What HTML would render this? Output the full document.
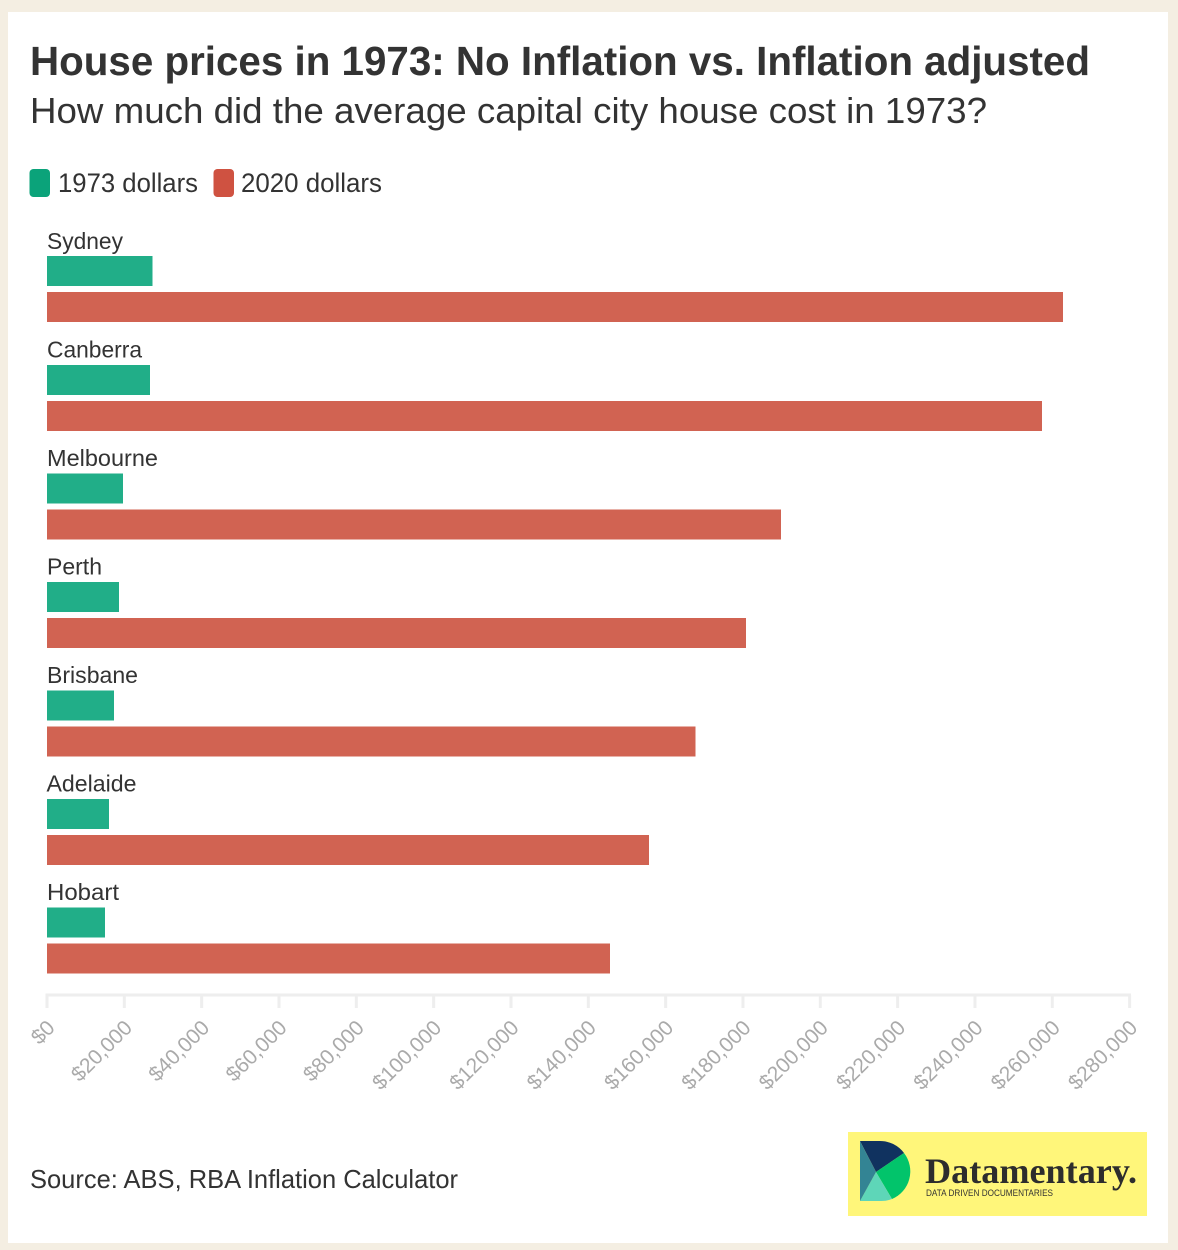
<!DOCTYPE html>
<html><head><meta charset="utf-8"><style>
html,body{margin:0;padding:0;background:#f4eee2;}
svg{display:block;}
text{font-family:"Liberation Sans",sans-serif;}
text.serif{font-family:"Liberation Serif",serif;}
</style></head><body>
<svg width="1178" height="1250" viewBox="0 0 1178 1250" xmlns="http://www.w3.org/2000/svg">
<rect x="0" y="0" width="1178" height="1250" fill="#f4eee2"/>
<rect x="8" y="12" width="1160" height="1231" fill="#ffffff"/>

<text x="30" y="75" font-size="41" font-weight="bold" fill="#333333" textLength="1060" lengthAdjust="spacingAndGlyphs">House prices in 1973: No Inflation vs. Inflation adjusted</text>
<text x="30" y="123" font-size="36" fill="#333333" textLength="957" lengthAdjust="spacingAndGlyphs">How much did the average capital city house cost in 1973?</text>

<rect x="29.5" y="169" width="20.5" height="28" rx="4" fill="#0ba37a"/>
<text x="58" y="192" font-size="27" fill="#333333" textLength="140" lengthAdjust="spacingAndGlyphs">1973 dollars</text>
<rect x="213.5" y="169" width="20.5" height="28" rx="4" fill="#cf5241"/>
<text x="241" y="192" font-size="27" fill="#333333" textLength="141" lengthAdjust="spacingAndGlyphs">2020 dollars</text>

<g font-size="23" fill="#333333">
<text x="47" y="249" textLength="76" lengthAdjust="spacingAndGlyphs">Sydney</text>
<text x="47" y="357.5" textLength="95" lengthAdjust="spacingAndGlyphs">Canberra</text>
<text x="47" y="466" textLength="111" lengthAdjust="spacingAndGlyphs">Melbourne</text>
<text x="47" y="574.5" textLength="55" lengthAdjust="spacingAndGlyphs">Perth</text>
<text x="47" y="683" textLength="91" lengthAdjust="spacingAndGlyphs">Brisbane</text>
<text x="46.5" y="791.5" textLength="90" lengthAdjust="spacingAndGlyphs">Adelaide</text>
<text x="47" y="900" textLength="72" lengthAdjust="spacingAndGlyphs">Hobart</text>
</g>

<g fill="#21ae88">
<rect x="47" y="256" width="105.5" height="30"/>
<rect x="47" y="365" width="103" height="30"/>
<rect x="47" y="473.5" width="76" height="30"/>
<rect x="47" y="582" width="72" height="30"/>
<rect x="47" y="690.5" width="67" height="30"/>
<rect x="47" y="799" width="62" height="30"/>
<rect x="47" y="907.5" width="58" height="30"/>
</g>
<g fill="#d16352">
<rect x="47" y="292" width="1016" height="30"/>
<rect x="47" y="401" width="995" height="30"/>
<rect x="47" y="509.5" width="734" height="30"/>
<rect x="47" y="618" width="699" height="30"/>
<rect x="47" y="726.5" width="648.5" height="30"/>
<rect x="47" y="835" width="602" height="30"/>
<rect x="47" y="943.5" width="563" height="30"/>
</g>

<line x1="45.5" y1="995" x2="1131" y2="995" stroke="#eeeeee" stroke-width="3"/>
<g stroke="#eeeeee" stroke-width="3">
<line x1="47" y1="995" x2="47" y2="1008"/>
<line x1="124.33" y1="995" x2="124.33" y2="1008"/>
<line x1="201.66" y1="995" x2="201.66" y2="1008"/>
<line x1="278.99" y1="995" x2="278.99" y2="1008"/>
<line x1="356.32" y1="995" x2="356.32" y2="1008"/>
<line x1="433.65" y1="995" x2="433.65" y2="1008"/>
<line x1="510.98" y1="995" x2="510.98" y2="1008"/>
<line x1="588.31" y1="995" x2="588.31" y2="1008"/>
<line x1="665.64" y1="995" x2="665.64" y2="1008"/>
<line x1="742.97" y1="995" x2="742.97" y2="1008"/>
<line x1="820.3" y1="995" x2="820.3" y2="1008"/>
<line x1="897.63" y1="995" x2="897.63" y2="1008"/>
<line x1="974.96" y1="995" x2="974.96" y2="1008"/>
<line x1="1052.29" y1="995" x2="1052.29" y2="1008"/>
<line x1="1129.62" y1="995" x2="1129.62" y2="1008"/>
</g>
<g font-size="21" fill="#aaaaaa" text-anchor="end">
<text transform="translate(56,1029) rotate(-45)">$0</text>
<text transform="translate(133.33,1029) rotate(-45)">$20,000</text>
<text transform="translate(210.66,1029) rotate(-45)">$40,000</text>
<text transform="translate(287.99,1029) rotate(-45)">$60,000</text>
<text transform="translate(365.32,1029) rotate(-45)">$80,000</text>
<text transform="translate(442.65,1029) rotate(-45)">$100,000</text>
<text transform="translate(519.98,1029) rotate(-45)">$120,000</text>
<text transform="translate(597.31,1029) rotate(-45)">$140,000</text>
<text transform="translate(674.64,1029) rotate(-45)">$160,000</text>
<text transform="translate(751.97,1029) rotate(-45)">$180,000</text>
<text transform="translate(829.3,1029) rotate(-45)">$200,000</text>
<text transform="translate(906.63,1029) rotate(-45)">$220,000</text>
<text transform="translate(983.96,1029) rotate(-45)">$240,000</text>
<text transform="translate(1061.29,1029) rotate(-45)">$260,000</text>
<text transform="translate(1138.62,1029) rotate(-45)">$280,000</text>
</g>

<text x="30" y="1188" font-size="26" fill="#333333" textLength="428" lengthAdjust="spacingAndGlyphs">Source: ABS, RBA Inflation Calculator</text>

<rect x="848" y="1132" width="299" height="84" fill="#fff67a"/>
<path d="M860,1141 L880,1141 A30,30 0 0 1 904,1153 L876,1172 Z" fill="#10325f"/>
<path d="M876,1172 L904,1153 A30,30 0 0 1 892,1199 Z" fill="#02c46b"/>
<path d="M876,1172 L892,1199 A30,30 0 0 1 880,1201 L860,1201 Z" fill="#5ed6b8"/>
<path d="M860,1141 L876,1172 L860,1201 Z" fill="#338494"/>
<text class="serif" x="925" y="1183" font-size="36" font-weight="bold" fill="#2d2d2d" textLength="212" lengthAdjust="spacingAndGlyphs">Datamentary.</text>
<text x="926" y="1196" font-size="9" fill="#333333" textLength="127" lengthAdjust="spacingAndGlyphs">DATA DRIVEN DOCUMENTARIES</text>
</svg>
</body></html>
